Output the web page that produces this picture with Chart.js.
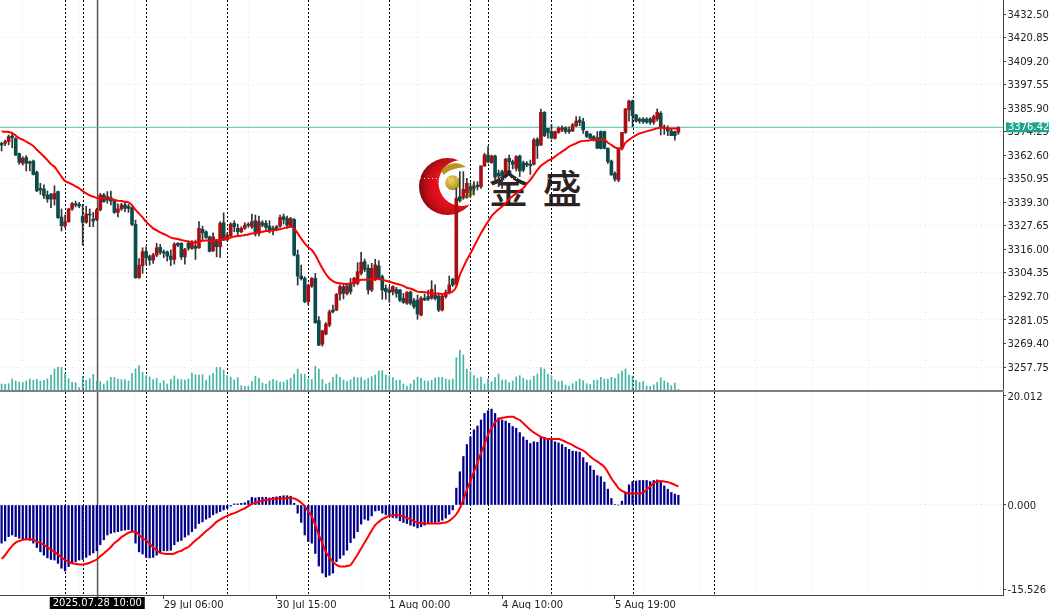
<!DOCTYPE html>
<html>
<head>
<meta charset="utf-8">
<style>
  html, body { margin: 0; padding: 0; background: #fff; overflow: hidden; }
  #wrap { position: relative; width: 1049px; height: 609px; }
  #logo { position: absolute; left: 0; top: 0; z-index: 0; }
  #brand { position: absolute; left: 489px; top: 161px; z-index: 0; font: 500 39px "Noto Sans CJK SC"; color: #2b2323; line-height: 50px; white-space: pre; letter-spacing: 3px; }
  .pane { position: absolute; left: 0; z-index: 1; }
  #pricePane { top: 0; width: 1049px; height: 392px; }
  #macdPane { top: 392px; width: 1049px; height: 217px; }
  #paneSep { position: absolute; left: 0; top: 390px; width: 1004px; height: 2px; background: #808080; z-index: 2; }
</style>
<script src="https://cdn.jsdelivr.net/npm/chart.js@4"></script>
</head>
<body>
<div id="wrap">
  <svg id="logo" width="1049" height="392">
    <defs>
      <radialGradient id="redGrad" cx="0.62" cy="0.5" r="0.62">
        <stop offset="0.55" stop-color="#e3101c"/>
        <stop offset="0.8" stop-color="#bf0d16"/>
        <stop offset="1" stop-color="#7a0a0e"/>
      </radialGradient>
      <radialGradient id="goldGrad" cx="0.4" cy="0.35" r="0.7">
        <stop offset="0" stop-color="#ecd75a"/>
        <stop offset="1" stop-color="#a8891c"/>
      </radialGradient>
      <mask id="crescent">
        <rect x="410" y="150" width="80" height="75" fill="#fff"/>
        <circle cx="461.5" cy="183" r="23" fill="#000"/>
      </mask>
    </defs>
    <circle cx="447.5" cy="186.5" r="28.5" fill="url(#redGrad)" mask="url(#crescent)"/>
    <circle cx="452.7" cy="182.7" r="7.5" fill="url(#goldGrad)"/>
    <path d="M441 171 C447 162 459 161 466 167 C456 168 448 170 444 175 Z" fill="#b3951f"/>
    <path d="M460 199 C466 195 470 190 474 181 C477 190 474 196 468 198 Z" fill="#b3951f"/>
  </svg>
  <div id="brand">金 盛</div>
  <div class="pane" id="pricePane"><canvas id="priceChart" width="1049" height="392"></canvas></div>
  <div class="pane" id="macdPane"><canvas id="macdChart" width="1049" height="217"></canvas></div>
  <div id="paneSep"></div>
</div>
<script>
// H1 bars, oldest first
const opens = [
  3368.5,3368.5,3369.3,3372.1,3370.9,3363.4,3358.6,3361.4,3359.4,3359.7,
  3354.1,3346.2,3345.9,3342.9,3343.2,3340.9,3344.6,3332,3327.6,3329.7,
  3336,3338.6,3338.3,3332.3,3329.4,3333.3,3331,3330.7,3335.6,3342.9,
  3342.1,3341.6,3340.3,3334.3,3336,3338,3337.3,3336.6,3328.4,3302,
  3307.9,3314.9,3312.4,3310.7,3313.2,3317,3314.8,3314.7,3312.7,3311,
  3319,3319,3312.3,3319,3316.5,3317.6,3316.8,3325.9,3324.7,3322.2,
  3315.3,3320.3,3317.3,3329.2,3320.6,3322.6,3328.9,3326.4,3324.7,3326.4,
  3328.5,3327.2,3330.2,3323.9,3329.2,3328.9,3327.5,3326.4,3327.2,3327.5,
  3332.2,3331.3,3327.5,3330.8,3313.2,3302.8,3301.6,3290.1,3297.8,3301.6,
  3280.7,3269.1,3274.1,3278.5,3286,3286,3293.9,3297.6,3294.2,3299.2,
  3298.9,3299.2,3304.2,3309.9,3306.6,3295.9,3300.9,3307.8,3302.5,3296.7,
  3295.9,3295.1,3296.2,3295.9,3291.8,3289.3,3294.9,3290.6,3290.9,3283.5,
  3291.8,3292.6,3291.8,3293.4,3292.9,3286,3292.6,3294.6,3301.2,3298.8,
  3342.1,3341.7,3344.1,3347,3347,3347.8,3347,3357.3,3362.7,3358.9,
  3362.2,3353.6,3354.5,3353.6,3361.1,3359.4,3356.1,3362.2,3358.9,3358.6,
  3358.1,3358.1,3370.5,3367.7,3383.8,3375.9,3374.3,3371,3373.9,3375.1,
  3376.2,3375.2,3374.6,3377.2,3380,3379.2,3374.3,3372.9,3371.8,3371.3,
  3374.3,3374.3,3366,3359.7,3353.6,3350.3,3366,3373.9,3385,3389.4,
  3382.5,3380.5,3380.5,3380.5,3380.5,3378.9,3380.5,3383.3,3376.6,3375.9,
  3374.6,3374.3,3373.9];
const highs = [
  3369,3370.1,3372.6,3372.9,3371.3,3363.7,3361.9,3362.4,3359.7,3360.2,
  3354.8,3348.7,3347.9,3344.9,3343.7,3347.5,3344.9,3336,3333,3336.3,
  3339.3,3339.9,3339.3,3338.3,3337.4,3336,3334.3,3336.3,3343.7,3343.7,
  3344.6,3344.9,3340.9,3338.6,3338.8,3339.3,3338.3,3337.1,3330.5,3311.5,
  3316.8,3317.3,3313.2,3314,3319,3318.5,3315.7,3315.2,3315.7,3319.3,
  3319.3,3319.3,3316.5,3320.3,3320.3,3320.6,3329.7,3327.5,3325.2,3322.6,
  3324.2,3320.9,3329.7,3334.1,3324.2,3329.2,3330.2,3328.5,3327.2,3329.2,
  3329.2,3333.5,3333,3332.5,3330.2,3330.2,3330.2,3327.5,3327.9,3333,
  3333.5,3332.5,3331.8,3331.3,3315.7,3308.2,3302.4,3298.8,3302.1,3304.1,
  3282.7,3276,3279.7,3286,3288.4,3294.2,3298.5,3298.5,3298.3,3301.7,
  3302.2,3309.4,3314.5,3311.2,3308.3,3309.1,3311.1,3310.4,3303.3,3298.4,
  3297.6,3297.9,3297.2,3296.2,3294.2,3295.1,3295.4,3291.8,3293.4,3292.6,
  3293.9,3295.9,3300.5,3298.4,3293.9,3293.9,3295.9,3302.8,3301.7,3346.2,
  3354.5,3354.5,3351.2,3349,3349.5,3349.5,3357.3,3363.6,3366.9,3362.7,
  3362.7,3355.3,3355.3,3361.1,3362.7,3360.2,3362.4,3362.7,3359.7,3359.4,
  3360.2,3370.9,3371.3,3385.5,3384.2,3375.9,3377.9,3374.6,3376.7,3377.2,
  3376.7,3376.6,3378.4,3381.7,3381.7,3380.9,3374.6,3373.4,3372.3,3374.3,
  3374.6,3374.6,3366.3,3360.2,3354.4,3366.3,3373.9,3385.8,3389.9,3389.9,
  3382.8,3381.2,3381.2,3381.2,3381.2,3382.5,3385.5,3384.2,3377.6,3377.2,
  3375.9,3374.6,3376.7];
const lows = [
  3364.7,3367.3,3367.7,3366.3,3362.4,3358.1,3357.7,3354.8,3354.8,3352.8,
  3344.6,3343.2,3341.2,3339.3,3336.6,3337.9,3331.3,3325.1,3326.7,3329.4,
  3335.3,3337,3336.6,3318.1,3328.9,3327.2,3327.2,3330.2,3335,3339.3,
  3338.8,3338,3333.8,3332,3335.3,3334.6,3334.3,3327.7,3301.6,3301.6,
  3304.1,3308.6,3308.2,3309.1,3312.4,3313.5,3311.9,3310.2,3307.9,3308.7,
  3317.3,3311,3308.7,3315.6,3316,3311,3316.5,3320.6,3321.4,3314.7,
  3314.8,3312.3,3312,3320.3,3320.3,3322.3,3324.7,3322.6,3324.2,3325.9,
  3326.9,3326.4,3322.6,3322.6,3327.2,3325.9,3324.2,3323.1,3325.2,3326.9,
  3328.5,3326.4,3327.2,3312.7,3298.3,3300.8,3289.6,3288.4,3297.2,3279.4,
  3268.3,3268.1,3273.6,3277.7,3284.6,3285.6,3290.9,3291.5,3293.4,3293.9,
  3297.6,3298.4,3303.3,3305,3293.9,3295.1,3300.5,3300.9,3291.3,3291.3,
  3289.8,3293.4,3292.3,3290.1,3289.3,3288.8,3288.5,3286.8,3281.4,3283,
  3290.6,3290.6,3291.3,3291,3285.2,3285.5,3291.8,3293.9,3297.6,3297.5,
  3339.4,3340.8,3341.3,3342.1,3342.9,3345.4,3346.2,3357,3358.9,3358.6,
  3349.5,3347,3346.2,3352.8,3355.3,3355.8,3354.8,3352,3354.4,3356.9,
  3353.1,3357.8,3361,3367.3,3371.8,3371,3370.6,3370.6,3373.4,3374.3,
  3373.4,3373.4,3374.3,3376.7,3377.2,3373.4,3371.3,3370.9,3369.6,3366,
  3365.7,3365.7,3358.6,3352.8,3349.8,3349.5,3365.2,3373.4,3379.5,3376.7,
  3378.9,3378.4,3378.4,3378.4,3377.9,3377.9,3379.5,3372.6,3372.9,3372.3,
  3372.3,3370.1,3372.9];
const closes = [
  3367.6,3369.3,3371.8,3371.3,3362.7,3359.1,3361.1,3358.6,3358.6,3353.1,
  3345,3345.4,3342.6,3340.9,3340.9,3343.7,3331.7,3327.7,3329.7,3336,
  3338.6,3337.9,3337.4,3329.4,3333.5,3333,3330,3335.6,3342.9,3339.6,
  3340.4,3339.9,3334.3,3336,3338,3336.3,3336.3,3328.4,3302,3308.2,
  3314.9,3311.9,3310.7,3313.2,3316.8,3314.5,3314.2,3312.7,3311,3318.6,
  3318.1,3312.3,3316,3316.5,3319.3,3316.5,3326.4,3324.2,3321.9,3315,
  3322.2,3317.3,3328.9,3320.6,3323.1,3328.5,3327.2,3324.7,3326.4,3328,
  3327.9,3329.7,3323.6,3329.7,3328,3326.9,3325.6,3325.2,3325.9,3331.8,
  3330.8,3328,3331.3,3313.2,3302.8,3301.5,3290.1,3298.3,3301.6,3279.7,
  3268.6,3275.7,3279,3285.1,3285.1,3293.7,3297.6,3294.2,3297.9,3295.1,
  3301.7,3305,3309.6,3306.1,3295.9,3306.6,3308.3,3301.7,3295.9,3295.1,
  3294.6,3297.6,3294.2,3290.9,3289.8,3294.7,3289.3,3287.6,3284,3291.8,
  3290.9,3291.3,3296.2,3291.8,3286,3292.9,3294.7,3298.4,3298.4,3341.3,
  3340.1,3345.7,3348.7,3345.4,3346.2,3347,3357.3,3362.7,3359.4,3362.2,
  3351.7,3352.3,3352.3,3360.6,3359.4,3358.1,3361.9,3354.8,3355.3,3357.8,
  3357.4,3370.1,3367.3,3383.8,3372.3,3373.8,3371,3374.3,3375.9,3376.2,
  3374.3,3374.3,3377.6,3379.5,3378.9,3375.1,3371.9,3370.9,3370.1,3366,
  3366,3366,3359.4,3352.8,3350.8,3366,3373.9,3385.5,3389.4,3382.2,
  3379.5,3379.5,3379.2,3378.9,3378.9,3381.7,3383.8,3376.2,3375.9,3374.6,
  3372.3,3372.3,3376.4];
const maValues = [
  3374.4,3374.2,3374.1,3373.6,3372.3,3371.1,3370.3,3369.3,3368.3,3367.2,
  3365.3,3363.7,3362,3360.2,3358.2,3356.9,3354.5,3352,3349.8,3349,
  3348.2,3347.2,3346.2,3344.9,3343.7,3342.7,3342.1,3341.4,3341.3,3341.3,
  3341.3,3340.9,3340.4,3340.1,3339.9,3339.6,3339.3,3337.9,3335.5,3333.7,
  3331.8,3329.7,3328,3326.4,3325.4,3324.4,3323.6,3322.8,3321.8,3321.4,
  3321.1,3320.6,3320.3,3319.8,3319.6,3319.4,3319.8,3320.3,3320.4,3320.3,
  3320.3,3320.6,3320.9,3321.1,3321.3,3321.9,3322.3,3322.6,3322.7,3323.1,
  3323.4,3323.9,3324.1,3324.4,3324.7,3325.1,3325.1,3325.4,3325.7,3326,
  3326.4,3326.9,3327.2,3326.4,3323.9,3321.4,3319,3317,3315.7,3313.2,
  3309.9,3306.6,3303.8,3301.6,3300.3,3299.5,3299.2,3299,3298.9,3299.2,
  3299.5,3300.2,3300.9,3300.9,3300.9,3301.2,3301.7,3301.3,3300.9,3300.5,
  3300,3299.5,3299,3298.5,3297.9,3297,3296.6,3295.9,3295.1,3294.9,
  3294.8,3294.6,3294.4,3294.2,3294.1,3293.9,3294.2,3294.6,3295.1,3297.6,
  3303.3,3307.1,3310.8,3314,3317.3,3320.7,3324,3326.9,3329.7,3332.5,
  3334.2,3335.8,3337.2,3338.8,3340.8,3342.4,3343.7,3345.1,3346.2,3348.4,
  3350.4,3352.8,3355.3,3357.4,3358.6,3359.9,3360.7,3361.9,3363.2,3364.4,
  3365.5,3366.9,3367.7,3368.5,3369.3,3369.7,3369.8,3370,3370.2,3370.2,
  3370.2,3370.2,3368.8,3367.7,3366.5,3365.9,3366,3368.8,3370.2,3371.5,
  3372.5,3373.4,3373.9,3374.4,3374.9,3375.4,3375.9,3376.3,3376.1,3375.9,
  3375.8,3375.8,3375.6];
const volumes = [
  180,170,190,330,270,240,230,270,330,290,320,270,290,330,450,630,690,680,500,340,
  230,220,70,410,290,340,470,270,250,180,270,380,380,330,310,310,270,500,630,730,
  530,430,390,310,350,200,280,180,320,420,330,310,300,330,500,460,450,460,300,430,
  500,680,680,600,430,390,300,370,130,110,120,250,410,350,210,180,270,320,280,240,
  240,300,350,480,630,480,470,320,310,710,630,320,180,220,380,470,380,300,250,300,
  390,370,370,300,350,400,450,570,580,450,430,370,290,300,180,120,180,300,380,350,
  270,270,290,360,380,380,330,300,330,970,1200,1050,630,550,430,350,390,180,330,250,
  370,480,300,300,220,270,390,430,350,300,300,420,480,670,630,480,430,300,250,270,
  150,120,190,250,330,280,190,170,290,300,380,330,330,380,350,480,570,630,450,420,
  300,230,250,120,100,150,230,370,270,220,130,210,20];
const macdValues = [
  -7,-6.6,-5.8,-5.5,-5.8,-6.1,-6.3,-6.4,-6.5,-7,-7.8,-8.6,-9.2,-9.7,-10,-10.1,-10.7,-11.6,-12.1,-11.3,
  -10.7,-10.4,-10.1,-10,-9.6,-9.2,-8.8,-8.4,-7.3,-6.4,-5.5,-5.2,-5,-4.9,-4.7,-4.6,-4.5,-4.9,-7,-8.6,
  -9,-9.6,-9.7,-9.6,-9.2,-8.8,-8.4,-8.4,-8.3,-7.3,-6.7,-6.5,-5.9,-5.5,-4.9,-4.3,-3.4,-3.1,-2.6,-2.3,
  -1.8,-1.5,-1.2,-0.9,-0.6,-0.2,0.2,0.2,0.3,0.4,0.8,1.4,1.3,1.4,1.4,1.4,1.3,1.4,1.5,1.6,
  1.7,1.7,1.6,0.3,-1.5,-3.2,-5.5,-6.7,-7,-8.9,-11.2,-12.5,-13.2,-12.9,-12.5,-10.4,-9.8,-9.2,-8.3,-6.9,
  -6.1,-4.9,-3.5,-2.6,-2.8,-2,-1.1,-1,-1.5,-1.8,-2.1,-2.3,-2.4,-2.9,-3.2,-3.4,-3.7,-3.9,-4.2,-4,
  -3.7,-3.4,-3.2,-3.2,-3.1,-2.8,-2.4,-1.7,-0.9,3.1,6.1,8.9,11.1,12.5,13.8,14.5,15.6,16.8,17.3,17.6,
  16.8,16,15.6,15.4,15,14.4,14.1,13.3,12.5,11.9,11.3,11.6,11.5,12.5,12.4,12.2,11.9,11.6,11.4,11.1,
  10.6,10.2,9.9,9.8,9.7,8.7,7.8,7.2,6.4,5.4,5.2,4.2,2.9,1.2,0.1,0,0.7,2.3,3.7,4.3,
  4.4,4.5,4.5,4.5,4.3,4.5,4.6,4.3,3.5,2.9,2.3,2,1.8];
const signalValues = [
  -9.9,-9.2,-8.3,-7.5,-6.9,-6.6,-6.4,-6.3,-6.3,-6.4,-6.7,-7,-7.3,-7.8,-8.2,-8.6,-9.1,-9.6,-10.1,-10.4,
  -10.7,-10.8,-10.9,-10.9,-10.8,-10.6,-10.3,-10,-9.4,-8.9,-8.3,-7.7,-7,-6.5,-5.9,-5.5,-5.1,-4.9,-4.9,-5.5,
  -6.1,-6.5,-7.1,-7.8,-8.3,-8.8,-8.9,-9,-9,-8.9,-8.6,-8.4,-8,-7.7,-7.1,-6.5,-6,-5.4,-4.8,-4.3,
  -3.7,-3.1,-2.7,-2.3,-2,-1.7,-1.5,-1.2,-0.9,-0.6,-0.2,0.2,0.4,0.6,0.8,0.9,1,1.1,1.2,1.2,
  1.2,1.3,1.3,1.2,0.9,0.4,-0.2,-1.2,-2.1,-3.7,-5.5,-7,-8.6,-9.6,-10.4,-11,-11.3,-11.3,-11.2,-11,
  -10.1,-9.1,-8,-6.9,-5.8,-4.7,-3.7,-3.1,-2.6,-2.3,-2,-1.9,-1.8,-2,-2.1,-2.4,-2.6,-3,-3.2,-3.3,
  -3.4,-3.4,-3.4,-3.4,-3.4,-3.3,-3.2,-2.9,-2.4,-1.7,-0.6,1,2.8,4.4,6.1,7.8,9.5,11.1,12.9,14.1,
  15.2,15.7,16,16.1,16.2,16.2,15.9,15.6,15,14.4,13.8,13.3,12.9,12.5,12.3,12.1,12.1,12.1,12.1,11.9,
  11.6,11.3,11,10.6,10.3,10,9.5,8.9,8.4,8,7.5,7,6,4.9,4,3.1,2.6,2.3,2.1,2.1,
  2.1,2.1,2.3,2.8,3.4,4,4.3,4.4,4.3,4.2,4,3.7,3.4];

// bar positions on the x axis
const periodSeps = [18, 23, 41, 64, 87, 110, 133, 138, 156, 179, 202];
const crossBar = 27;
const crossLabel = '2025.07.28 10:00';
const timeIdx = [46, 78, 110, 142, 174];
const timeLabels = ['29 Jul 06:00', '30 Jul 15:00', '1 Aug 00:00', '4 Aug 10:00', '5 Aug 19:00'];
const gridIdx = [6, 22, 38, 54, 70, 86, 102, 118, 134, 150, 166, 182, 198, 214, 230, 246, 262, 278];

// axes
const priceTicks = [3432.5, 3420.85, 3409.2, 3397.55, 3385.9, 3374.25, 3362.6, 3350.95, 3339.3, 3327.65, 3316, 3304.35, 3292.7, 3281.05, 3269.4, 3257.75];
const priceGridTicks = [3420.85, 3397.55, 3374.25, 3350.95, 3327.65, 3304.35, 3281.05, 3257.75];
const macdTicks = [20.012, 0, -15.526];
const lastPrice = 3376.42;

const X_MIN = -0.454;
const X_MAX = 284.1;
const FONT = { family: '"DejaVu Sans"', size: 10 };
const GRID_COLOR = '#e6e6e6';
const AXIS_COLOR = '#444';
const CLEAR = 'rgba(0,0,0,0)';

const bars = opens.map((o, i) => i);
const isUp = i => closes[i] >= opens[i];

function xOptions(showLabels) {
    return {
        type: 'linear',
        offset: false,
        min: X_MIN,
        max: X_MAX,
        afterBuildTicks: scale => {
            scale.ticks = gridIdx.concat(timeIdx).sort((a, b) => a - b).map(v => ({ value: v }));
        },
        afterFit: scale => {
            scale.paddingLeft = 0;
            scale.paddingRight = 0;
            scale.height = showLabels ? 14 : 0;
        },
        border: { display: showLabels, color: AXIS_COLOR, dash: [1, 3] },
        grid: {
            offset: false,
            color: ctx => ctx.tick && gridIdx.includes(ctx.tick.value) ? GRID_COLOR : CLEAR,
            tickColor: ctx => ctx.tick && timeIdx.includes(ctx.tick.value) ? AXIS_COLOR : CLEAR,
            tickLength: showLabels ? 4 : 0,
            drawTicks: showLabels
        },
        ticks: {
            display: showLabels,
            autoSkip: false,
            maxRotation: 0,
            align: 'start',
            padding: 0,
            color: '#222',
            font: FONT,
            callback: v => {
                const k = timeIdx.indexOf(v);
                return k < 0 ? '' : timeLabels[k];
            }
        }
    };
}

function yOptions(min, max, tickList, gridList, digits) {
    return {
        position: 'right',
        min: min,
        max: max,
        afterBuildTicks: scale => {
            scale.ticks = tickList.map(v => ({ value: v }));
        },
        afterFit: scale => {
            scale.width = 46;
            scale.paddingTop = 0;
            scale.paddingBottom = 0;
        },
        border: { color: AXIS_COLOR, dash: [1, 3] },
        grid: {
            color: ctx => ctx.tick && gridList.includes(ctx.tick.value) ? GRID_COLOR : CLEAR,
            tickColor: AXIS_COLOR,
            tickLength: 3
        },
        ticks: {
            padding: 1.5,
            labelOffset: 1,
            color: '#222',
            font: FONT,
            autoSkip: false,
            callback: v => v.toFixed(digits)
        }
    };
}

// period separators and the crosshair, placed with the x scale
const separatorPlugin = {
    id: 'separators',
    beforeDatasetsDraw(chart) {
        const { ctx, chartArea, scales } = chart;
        ctx.save();
        ctx.strokeStyle = '#000';
        ctx.lineWidth = 1;
        ctx.setLineDash([2, 2]);
        periodSeps.forEach(i => {
            const x = Math.round(scales.x.getPixelForValue(i)) + 0.5;
            ctx.beginPath();
            ctx.moveTo(x, chartArea.top);
            ctx.lineTo(x, chartArea.bottom);
            ctx.stroke();
        });
        ctx.setLineDash([]);
        ctx.strokeStyle = '#555';
        ctx.lineWidth = 1.5;
        const cx = scales.x.getPixelForValue(crossBar) + 0.8;
        ctx.beginPath();
        ctx.moveTo(cx, chartArea.top);
        ctx.lineTo(cx, chartArea.bottom + 2);
        ctx.stroke();
        ctx.restore();
    }
};

// price tag over the right axis
const lastPricePlugin = {
    id: 'lastPrice',
    afterDraw(chart) {
        const { ctx, scales } = chart;
        const y = scales.y.getPixelForValue(lastPrice);
        ctx.save();
        ctx.fillStyle = '#1fa58f';
        ctx.fillRect(1006, y - 5, 43, 10);
        ctx.fillStyle = '#fff';
        ctx.font = '10px "DejaVu Sans"';
        ctx.textBaseline = 'middle';
        ctx.fillText(lastPrice.toFixed(2), 1008, y + 0.5);
        ctx.restore();
    }
};

// time label of the crosshair under the axis
const crossLabelPlugin = {
    id: 'crossLabel',
    afterDraw(chart) {
        const { ctx, scales, chartArea } = chart;
        const cx = scales.x.getPixelForValue(crossBar);
        ctx.save();
        ctx.fillStyle = '#000';
        ctx.fillRect(cx - 47, chartArea.bottom + 2, 95, 12);
        ctx.fillStyle = '#fff';
        ctx.font = '10px "DejaVu Sans"';
        ctx.textAlign = 'center';
        ctx.textBaseline = 'middle';
        ctx.fillText(crossLabel, cx + 0.5, chartArea.bottom + 8.5);
        ctx.restore();
    }
};

const priceChart = new Chart(document.getElementById('priceChart'), {
    type: 'bar',
    data: {
        datasets: [
            {
                label: 'MA',
                type: 'line',
                data: bars.map(i => ({ x: i, y: maValues[i] })),
                borderColor: '#ff0000',
                borderWidth: 2,
                pointRadius: 0,
                cubicInterpolationMode: 'monotone',
                order: 1
            },
            {
                label: 'Bodies',
                data: bars.map(i => ({ x: i, y: [opens[i], closes[i]] })),
                backgroundColor: bars.map(i => isUp(i) ? '#a80f14' : '#0d4a4a'),
                borderColor: '#000',
                borderWidth: 0,
                borderSkipped: false,
                barThickness: 3,
                minBarLength: 1,
                grouped: false,
                order: 2
            },
            {
                label: 'Wicks',
                data: bars.map(i => ({ x: i, y: [lows[i], highs[i]] })),
                backgroundColor: '#333',
                barThickness: 1,
                grouped: false,
                order: 3
            },
            {
                label: 'Volume',
                data: bars.map(i => ({ x: i, y: volumes[i] })),
                yAxisID: 'yVol',
                backgroundColor: '#43b5a2',
                barThickness: 1,
                grouped: false,
                order: 4
            },
            {
                label: 'Last',
                type: 'line',
                data: [{ x: X_MIN, y: lastPrice }, { x: X_MAX, y: lastPrice }],
                borderColor: '#4cc4b0',
                borderWidth: 1,
                pointRadius: 0,
                order: 5
            }
        ]
    },
    options: {
        responsive: false,
        animation: false,
        layout: { padding: 0 },
        plugins: { legend: { display: false }, tooltip: { enabled: false } },
        scales: {
            x: xOptions(false),
            y: yOptions(3245.4, 3439.43, priceTicks, priceGridTicks, 2),
            yVol: { display: false, min: -60, max: 11700 }
        }
    },
    plugins: [separatorPlugin, lastPricePlugin]
});

const macdChart = new Chart(document.getElementById('macdChart'), {
    type: 'bar',
    data: {
        datasets: [
            {
                label: 'Signal',
                type: 'line',
                data: bars.map(i => ({ x: i, y: signalValues[i] })),
                borderColor: '#ff0000',
                borderWidth: 2,
                pointRadius: 0,
                cubicInterpolationMode: 'monotone',
                order: 1
            },
            {
                label: 'MACD',
                data: bars.map(i => ({ x: i, y: macdValues[i] })),
                backgroundColor: '#00008b',
                barThickness: 1.6,
                grouped: false,
                order: 2
            }
        ]
    },
    options: {
        responsive: false,
        animation: false,
        layout: { padding: 0 },
        plugins: { legend: { display: false }, tooltip: { enabled: false } },
        scales: {
            x: xOptions(true),
            y: yOptions(-16.52, 20.74, macdTicks, [0], 3)
        }
    },
    plugins: [separatorPlugin, crossLabelPlugin]
});
</script>
</body>
</html>
